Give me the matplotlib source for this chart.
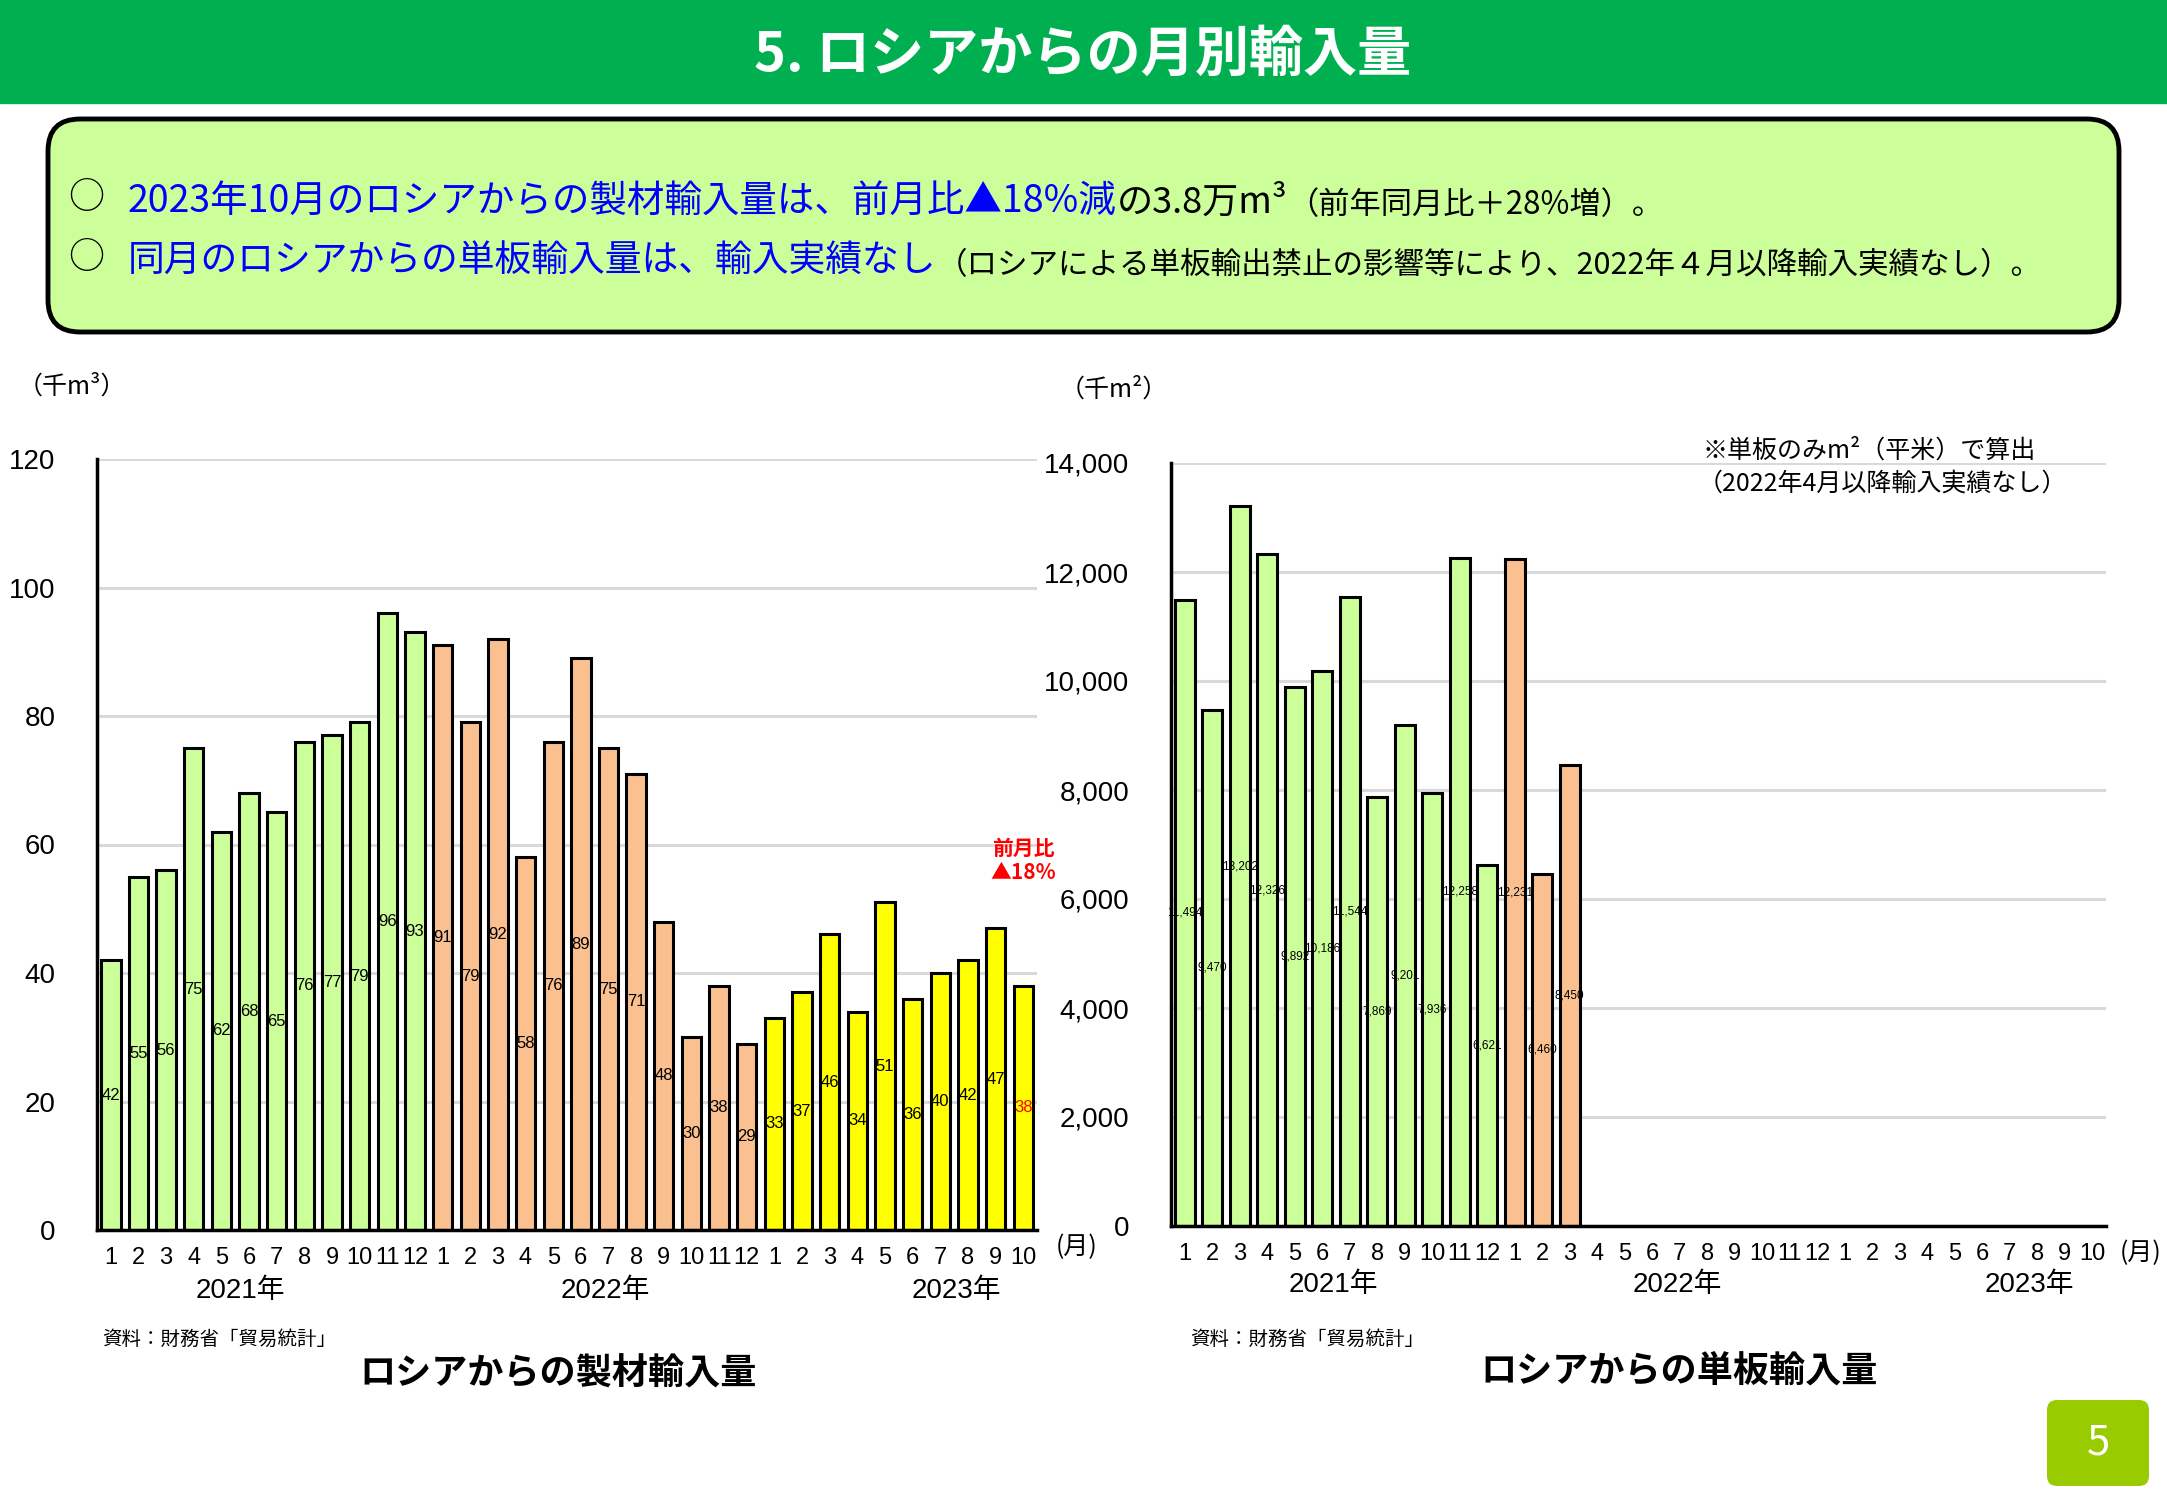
import matplotlib.pyplot as plt
from matplotlib.patches import FancyBboxPatch, Rectangle

plt.rcParams['font.family'] = ['Noto Sans CJK JP', 'DejaVu Sans']
NUM_FONT = ['Liberation Sans', 'Noto Sans CJK JP']

# month labels, 2021-01 .. 2023-10
months = ['1', '2', '3', '4', '5', '6', '7', '8', '9', '10', '11', '12',
          '1', '2', '3', '4', '5', '6', '7', '8', '9', '10', '11', '12',
          '1', '2', '3', '4', '5', '6', '7', '8', '9', '10']
years = ['2021'] * 12 + ['2022'] * 12 + ['2023'] * 10
year_labels = ['2021年', '2022年', '2023年']

# sawn wood imports from Russia (thousand m3)
sawn_2021 = [42, 55, 56, 75, 62, 68, 65, 76, 77, 79, 96, 93]
sawn_2022 = [91, 79, 92, 58, 76, 89, 75, 71, 48, 30, 38, 29]
sawn_2023 = [33, 37, 46, 34, 51, 36, 40, 42, 47, 38]

# veneer imports from Russia (thousand m2), none since 2022-04
veneer_2021 = [11494, 9470, 13202, 12326, 9892, 10186, 11544, 7869, 9201, 7936, 12258, 6621]
veneer_2022 = [12231, 6460, 8450]

year_colors = {'2021': '#CCFF99', '2022': '#FAC090', '2023': '#FFFF00'}

sawn = sawn_2021 + sawn_2022 + sawn_2023
veneer = veneer_2021 + veneer_2022
x = list(range(len(months)))

fig = plt.figure(figsize=(21.67, 15), dpi=100)

# background layer in pixel coordinates
bg = fig.add_axes([0, 0, 1, 1], zorder=-1)
bg.set_xlim(0, 2167)
bg.set_ylim(1500, 0)
bg.axis('off')

bg.add_patch(Rectangle((0, 0), 2167, 103, color='#00B050'))
bg.text(1083, 55, '5. ロシアからの月別輸入量', color='white', fontsize=39,
        fontweight='bold', ha='center', va='center')

bg.add_patch(FancyBboxPatch((48, 119), 2071, 213,
                            boxstyle='round,pad=0,rounding_size=32',
                            fc='#CCFF99', ec='black', lw=3.5))


def chain_text(x0, y0, pieces):
    prev = None
    for s, color, size in pieces:
        if prev is None:
            prev = bg.text(x0, y0, s, color=color, fontsize=size, va='bottom', ha='left')
        else:
            prev = bg.annotate(s, xy=(1, 0), xycoords=prev, color=color,
                               fontsize=size, va='bottom', ha='left')


bg.text(68, 198, '○', fontsize=26, va='center', ha='left')
bg.text(68, 258, '○', fontsize=26, va='center', ha='left')
chain_text(128, 221, [
    ('2023年10月のロシアからの製材輸入量は、前月比▲18%減', '#0000FF', 27),
    ('の3.8万m³', 'black', 26),
    ('（前年同月比＋28%増）。', 'black', 22.5),
])
chain_text(128, 281, [
    ('同月のロシアからの単板輸入量は、輸入実績なし', '#0000FF', 26.5),
    ('（ロシアによる単板輸出禁止の影響等により、2022年４月以降輸入実績なし）。', 'black', 22),
])

# ---- left chart: sawn wood ----
ax1 = fig.add_axes([97 / 2167, 1 - 1230 / 1500, 940 / 2167, 771 / 1500])
ax1.bar(x, sawn, width=0.7, color=[year_colors[y] for y in years],
        edgecolor='black', linewidth=2.2, zorder=3)
for xi, v in zip(x, sawn):
    c = 'red' if xi == len(sawn) - 1 else 'black'
    ax1.text(xi, v / 2, f'{v}', ha='center', va='center', fontsize=12,
             color=c, family=NUM_FONT, zorder=4)
ax1.set_xlim(-0.5, len(months) - 0.5)
ax1.set_ylim(0, 120)
ax1.set_yticks([0, 20, 40, 60, 80, 100, 120])

ax1.text(len(sawn) - 1, 57.5, '前月比\n▲18%', color='red', fontsize=15,
         fontweight='bold', ha='center', va='center', linespacing=1.15)

# ---- right chart: veneer ----
ax2 = fig.add_axes([1171 / 2167, 1 - 1226 / 1500, 935 / 2167, 763 / 1500])
ax2.bar(x[:len(veneer)], veneer, width=0.72,
        color=[year_colors[y] for y in years[:len(veneer)]],
        edgecolor='black', linewidth=2.2, zorder=3)
for xi, v in zip(x, veneer):
    ax2.text(xi, v / 2, f'{v:,}', ha='center', va='center', fontsize=8.5,
             family=NUM_FONT, zorder=4)
ax2.set_xlim(-0.5, len(months) - 0.5)
ax2.set_ylim(0, 14000)
ax2.set_yticks([0, 2000, 4000, 6000, 8000, 10000, 12000, 14000])
ax2.set_yticklabels([f'{t:,}' for t in ax2.get_yticks().astype(int)])

for ax in (ax1, ax2):
    ax.patch.set_visible(False)
    ax.set_xticks(x)
    ax.set_xticklabels(months)
    for lab in ax.get_xticklabels():
        lab.set_family(NUM_FONT)
        lab.set_fontsize(17)
    for lab in ax.get_yticklabels():
        lab.set_family(NUM_FONT)
        lab.set_fontsize(20)
    ax.tick_params(axis='x', length=0, pad=12)
    ax.tick_params(axis='y', length=0, pad=30)
    ax.yaxis.grid(True, color='#D9D9D9', lw=2.2)
    ax.set_axisbelow(True)
    for s in ('top', 'right'):
        ax.spines[s].set_visible(False)
    for s in ('left', 'bottom'):
        ax.spines[s].set_linewidth(2.5)
        ax.spines[s].set_zorder(5)

for xp, lab in zip([4.7, 17.9, 30.6], year_labels):
    ax1.text(xp, -0.079, lab, transform=ax1.get_xaxis_transform(),
             ha='center', va='center', fontsize=20, family=NUM_FONT)
for xp, lab in zip([5.4, 17.9, 30.7], year_labels):
    ax2.text(xp, -0.077, lab, transform=ax2.get_xaxis_transform(),
             ha='center', va='center', fontsize=20, family=NUM_FONT)

# units and notes
bg.text(18, 387, '（千m³）', fontsize=18, va='center', ha='left')
bg.text(1060, 390, '（千m²）', fontsize=18, va='center', ha='left')
bg.text(1056, 1247, '(月)', fontsize=18, va='center', ha='left')
bg.text(2162, 1253, '(月)', fontsize=18, va='center', ha='right')
bg.text(1703, 451, '※単板のみm²（平米）で算出', fontsize=18, va='center', ha='left')
bg.text(1698, 484, '（2022年4月以降輸入実績なし）', fontsize=18, va='center', ha='left')

bg.text(102, 1339, '資料：財務省「貿易統計」', fontsize=14, va='center', ha='left')
bg.text(1190, 1339, '資料：財務省「貿易統計」', fontsize=14, va='center', ha='left')
bg.text(558, 1374, 'ロシアからの製材輸入量', fontsize=26, fontweight='bold',
        va='center', ha='center')
bg.text(1679, 1371, 'ロシアからの単板輸入量', fontsize=26, fontweight='bold',
        va='center', ha='center')

bg.add_patch(FancyBboxPatch((2047, 1400), 102, 86,
                            boxstyle='round,pad=0,rounding_size=10',
                            fc='#99CC00', ec='none'))
bg.text(2098, 1443, '5', color='white', fontsize=30, va='center', ha='center')

fig.savefig('out.png', dpi=100)
